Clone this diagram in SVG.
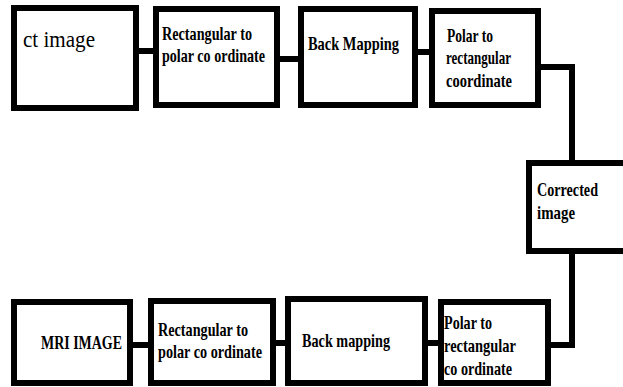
<svg xmlns="http://www.w3.org/2000/svg" width="623" height="387" viewBox="0 0 623 387">
<style>
.box{fill:#fff;stroke:#000;stroke-width:6}
.ln{fill:none;stroke:#000;stroke-width:6}
.t{font-family:"Liberation Serif","Times New Roman",serif;font-weight:bold;font-size:19px;fill:#000}
.big{font-family:"Liberation Serif","Times New Roman",serif;font-size:23px;fill:#000}
</style>
<rect width="623" height="387" fill="#fff"/>
<g id="connectors">
<line class="ln" x1="139" y1="51" x2="153" y2="51"/>
<line class="ln" x1="280" y1="59" x2="298" y2="59"/>
<line class="ln" x1="418" y1="52" x2="429" y2="52"/>
<polyline class="ln" points="541,67 572,67 572,160"/>
<polyline class="ln" points="572,254 572,345 551,345"/>
<line class="ln" x1="133" y1="345" x2="148" y2="345"/>
<line class="ln" x1="276" y1="343" x2="285" y2="343"/>
<line class="ln" x1="428" y1="343" x2="438" y2="343"/>
</g>
<g id="ct">
<rect class="box" x="14" y="8" width="122" height="100"/>
<text class="big" x="23" y="47" textLength="72" lengthAdjust="spacingAndGlyphs">ct image</text>
</g>
<g id="rect2polar1">
<rect class="box" x="156" y="9" width="121" height="96"/>
<text class="t" x="162" y="40" textLength="90" lengthAdjust="spacingAndGlyphs">Rectangular to</text>
<text class="t" x="162" y="62" textLength="103" lengthAdjust="spacingAndGlyphs">polar co ordinate</text>
</g>
<g id="backmap1">
<rect class="box" x="301" y="9" width="114" height="96"/>
<text class="t" x="308" y="50" textLength="91" lengthAdjust="spacingAndGlyphs">Back Mapping</text>
</g>
<g id="polar2rect1">
<rect class="box" x="432" y="11" width="106" height="94"/>
<text class="t" x="447" y="42" textLength="46" lengthAdjust="spacingAndGlyphs">Polar to</text>
<text class="t" x="446" y="64" textLength="65" lengthAdjust="spacingAndGlyphs">rectangular</text>
<text class="t" x="446" y="87" textLength="66" lengthAdjust="spacingAndGlyphs">coordinate</text>
</g>
<g id="corrected">
<rect class="box" x="529" y="163" width="100" height="88"/>
<text class="t" x="537" y="196" textLength="61" lengthAdjust="spacingAndGlyphs">Corrected</text>
<text class="t" x="537" y="219" textLength="38" lengthAdjust="spacingAndGlyphs">image</text>
</g>
<g id="mri">
<rect class="box" x="14" y="302" width="116" height="81"/>
<text class="t" x="41" y="349" textLength="81" lengthAdjust="spacingAndGlyphs">MRI IMAGE</text>
</g>
<g id="rect2polar2">
<rect class="box" x="151" y="301" width="122" height="82"/>
<text class="t" x="158" y="336" textLength="90" lengthAdjust="spacingAndGlyphs">Rectangular to</text>
<text class="t" x="158" y="358" textLength="104" lengthAdjust="spacingAndGlyphs">polar co ordinate</text>
</g>
<g id="backmap2">
<rect class="box" x="288" y="299" width="137" height="84"/>
<text class="t" x="302" y="347" textLength="88" lengthAdjust="spacingAndGlyphs">Back mapping</text>
</g>
<g id="polar2rect2">
<rect class="box" x="441" y="302" width="107" height="81"/>
<text class="t" x="444" y="329" textLength="48" lengthAdjust="spacingAndGlyphs">Polar to</text>
<text class="t" x="444" y="352" textLength="72" lengthAdjust="spacingAndGlyphs">rectangular</text>
<text class="t" x="444" y="375" textLength="68" lengthAdjust="spacingAndGlyphs">co ordinate</text>
</g>
</svg>
